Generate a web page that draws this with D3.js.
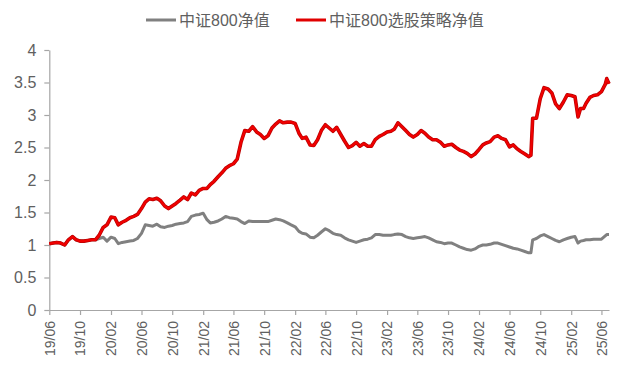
<!DOCTYPE html>
<html>
<head>
<meta charset="utf-8">
<script src="https://cdn.jsdelivr.net/npm/d3@7"></script>
<style>
  html, body { margin: 0; padding: 0; background: #fff; }
  svg { display: block; }
</style>
</head>
<body>
<svg id="chart" width="618" height="369"></svg>
<script>
// ---- data ----
const seriesNames = ["中证800净值", "中证800选股策略净值"];
const tickLabels = ["19/06","19/10","20/02","20/06","20/10","21/02","21/06","21/10","22/02","22/06","22/10","23/02","23/06","23/10","24/02","24/06","24/10","25/02","25/06"];
const yTicks = [0, 0.5, 1, 1.5, 2, 2.5, 3, 3.5, 4];

const dates = [
  "2019-06-01","2019-06-16","2019-07-01","2019-07-16","2019-08-01","2019-08-16","2019-09-01","2019-09-16","2019-10-01","2019-10-16",
  "2019-11-01","2019-11-16","2019-12-01","2019-12-16","2020-01-01","2020-01-16","2020-02-01","2020-02-16","2020-03-01","2020-03-16",
  "2020-04-01","2020-04-16","2020-05-01","2020-05-16","2020-06-01","2020-06-16","2020-07-01","2020-07-16","2020-08-01","2020-08-16",
  "2020-09-01","2020-09-16","2020-10-01","2020-10-16","2020-11-01","2020-11-16","2020-12-01","2020-12-16","2021-01-01","2021-01-16",
  "2021-02-01","2021-02-16","2021-03-01","2021-03-16","2021-04-01","2021-04-16","2021-05-01","2021-05-16","2021-06-01","2021-06-16",
  "2021-07-01","2021-07-16","2021-08-01","2021-08-16","2021-09-01","2021-09-16","2021-10-01","2021-10-16","2021-11-01","2021-11-16",
  "2021-12-01","2021-12-16","2022-01-01","2022-01-16","2022-02-01","2022-02-16","2022-03-01","2022-03-16","2022-04-01","2022-04-16",
  "2022-05-01","2022-05-16","2022-06-01","2022-06-16","2022-07-01","2022-07-16","2022-08-01","2022-08-16","2022-09-01","2022-09-16",
  "2022-10-01","2022-10-16","2022-11-01","2022-11-16","2022-12-01","2022-12-16","2023-01-01","2023-01-16","2023-02-01","2023-02-16",
  "2023-03-01","2023-03-16","2023-04-01","2023-04-16","2023-05-01","2023-05-16","2023-06-01","2023-06-16","2023-07-01","2023-07-16",
  "2023-08-01","2023-08-16","2023-09-01","2023-09-16","2023-10-01","2023-10-16","2023-11-01","2023-11-16","2023-12-01","2023-12-16",
  "2024-01-01","2024-01-16","2024-02-01","2024-02-16","2024-03-01","2024-03-16","2024-04-01","2024-04-16","2024-05-01","2024-05-16",
  "2024-06-01","2024-06-16","2024-07-01","2024-07-16","2024-08-01","2024-08-16","2024-08-25","2024-09-01","2024-09-16","2024-10-01",
  "2024-10-16","2024-11-01","2024-11-16","2024-12-01","2024-12-16","2025-01-01","2025-01-16","2025-02-01","2025-02-16","2025-02-28",
  "2025-03-10","2025-03-22","2025-04-01","2025-04-16","2025-05-01","2025-05-16","2025-06-01","2025-06-16","2025-06-22","2025-07-01"
];

const csi800 = [
  1.02,1.03,1.04,1.03,1.00,1.08,1.13,1.08,1.06,1.06,
  1.07,1.08,1.08,1.10,1.12,1.06,1.12,1.10,1.02,1.04,
  1.05,1.06,1.07,1.10,1.18,1.31,1.30,1.29,1.32,1.28,
  1.27,1.29,1.30,1.32,1.33,1.34,1.36,1.44,1.46,1.47,
  1.49,1.39,1.34,1.35,1.37,1.40,1.44,1.42,1.41,1.40,
  1.36,1.33,1.37,1.36,1.36,1.36,1.36,1.36,1.38,1.40,
  1.39,1.37,1.34,1.31,1.28,1.21,1.18,1.17,1.12,1.11,
  1.15,1.20,1.25,1.22,1.18,1.16,1.15,1.11,1.08,1.06,
  1.04,1.06,1.08,1.09,1.11,1.16,1.16,1.15,1.15,1.15,
  1.16,1.17,1.16,1.13,1.11,1.10,1.11,1.12,1.13,1.11,
  1.08,1.05,1.04,1.02,1.03,1.03,1.00,0.97,0.95,0.93,
  0.92,0.94,0.98,1.00,1.00,1.01,1.03,1.03,1.01,0.99,
  0.97,0.95,0.94,0.92,0.90,0.88,0.88,1.08,1.10,1.14,
  1.16,1.13,1.10,1.07,1.05,1.08,1.10,1.12,1.13,1.03,
  1.06,1.07,1.08,1.08,1.09,1.09,1.09,1.14,1.16,1.16
];

const strategy = [
  1.02,1.03,1.04,1.03,1.00,1.08,1.13,1.08,1.06,1.06,
  1.07,1.08,1.08,1.15,1.27,1.31,1.43,1.42,1.31,1.35,
  1.38,1.42,1.44,1.47,1.56,1.66,1.71,1.70,1.72,1.68,
  1.60,1.56,1.60,1.64,1.69,1.74,1.70,1.80,1.77,1.84,
  1.87,1.87,1.93,1.98,2.05,2.11,2.18,2.22,2.25,2.32,
  2.58,2.76,2.75,2.82,2.74,2.70,2.64,2.68,2.80,2.86,
  2.91,2.88,2.89,2.89,2.87,2.72,2.64,2.66,2.54,2.53,
  2.62,2.76,2.85,2.80,2.75,2.81,2.70,2.60,2.50,2.53,
  2.58,2.52,2.56,2.52,2.52,2.62,2.67,2.70,2.74,2.75,
  2.78,2.88,2.82,2.76,2.70,2.66,2.70,2.76,2.72,2.66,
  2.62,2.62,2.58,2.52,2.54,2.55,2.50,2.46,2.44,2.41,
  2.36,2.40,2.47,2.54,2.57,2.59,2.66,2.68,2.64,2.62,
  2.51,2.54,2.48,2.44,2.40,2.36,2.38,2.95,2.95,3.25,
  3.42,3.40,3.34,3.17,3.10,3.20,3.31,3.30,3.28,2.97,
  3.10,3.10,3.18,3.27,3.30,3.31,3.36,3.47,3.56,3.48
];

// ---- drawing ----
const svg = d3.select("#chart");
const parseDate = d3.timeParse("%Y-%m-%d");
const parseTick = d3.timeParse("%y/%m");
const dateObjs = dates.map(parseDate);

const x = d3.scaleTime()
  .domain([parseDate("2019-06-01"), parseDate("2025-07-01")])
  .range([49.3, 609]);
const y = d3.scaleLinear().domain([0, 4]).range([310, 50]);

const axisColor = "#a6a6a6";
const textColor = "#606060";

// Y axis
const gy = svg.append("g").attr("transform", "translate(49.3,0)")
  .call(d3.axisLeft(y).tickValues(yTicks).tickSize(5).tickSizeOuter(0).tickPadding(8)
    .tickFormat(d => String(d)));
gy.select(".domain").attr("stroke", axisColor).attr("stroke-width", 1.2);
gy.selectAll(".tick line").attr("stroke", axisColor).attr("stroke-width", 1.2);
gy.selectAll(".tick text")
  .attr("fill", textColor)
  .style("font-family", "'Liberation Sans', Arial, sans-serif")
  .style("font-size", "16px");

// X axis
const tickDates = tickLabels.map(parseTick);
const gx = svg.append("g").attr("transform", "translate(0,310)")
  .call(d3.axisBottom(x).tickValues(tickDates).tickSize(5).tickSizeOuter(0)
    .tickFormat((d, i) => tickLabels[i]));
gx.select(".domain").attr("stroke", axisColor).attr("stroke-width", 1.2);
gx.selectAll(".tick line").attr("stroke", axisColor).attr("stroke-width", 1.2);
gx.selectAll(".tick text")
  .attr("transform", "rotate(-90)")
  .attr("text-anchor", "end")
  .attr("x", -11)
  .attr("y", 0)
  .attr("dy", "0.35em")
  .attr("fill", textColor)
  .style("font-family", "'Liberation Sans', Arial, sans-serif")
  .style("font-size", "14px");

// Lines
const line = vals => d3.line()
  .x((d, i) => x(dateObjs[i]))
  .y(d => y(d))(vals);

svg.append("path")
  .attr("d", line(csi800))
  .attr("fill", "none")
  .attr("stroke", "#808080")
  .attr("stroke-width", 3)
  .attr("stroke-linejoin", "round");

svg.append("path")
  .attr("d", line(strategy))
  .attr("fill", "none")
  .attr("stroke", "#b80000")
  .attr("stroke-width", 3.6)
  .attr("stroke-linejoin", "round");
svg.append("path")
  .attr("d", line(strategy))
  .attr("fill", "none")
  .attr("stroke", "#f00000")
  .attr("stroke-width", 2.2)
  .attr("stroke-linejoin", "round");

// Legend
const legendItems = [
  { name: seriesNames[0], color: "#808080", x0: 146, x1: 176, tx: 179 },
  { name: seriesNames[1], color: "#e00000", x0: 296, x1: 326, tx: 329 }
];
const lg = svg.append("g");
legendItems.forEach(it => {
  lg.append("line")
    .attr("x1", it.x0).attr("x2", it.x1)
    .attr("y1", 20).attr("y2", 20)
    .attr("stroke", it.color).attr("stroke-width", 3);
  lg.append("text")
    .attr("x", it.tx).attr("y", 20)
    .attr("dy", "0.35em")
    .attr("fill", textColor)
    .style("font-family", "'Liberation Sans', 'Noto Sans CJK SC', sans-serif")
    .style("font-size", "16px")
    .text(it.name);
});
</script>
</body>
</html>
